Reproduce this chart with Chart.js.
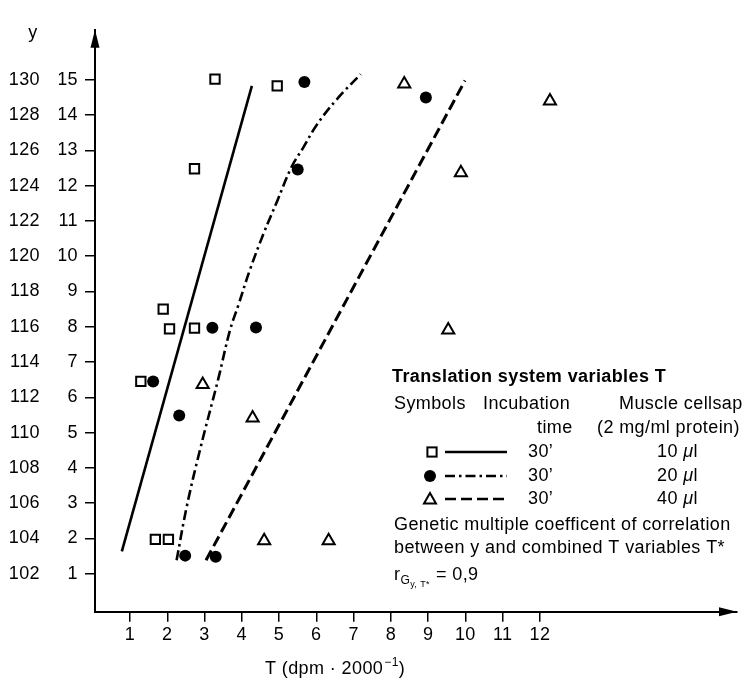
<!DOCTYPE html>
<html>
<head>
<meta charset="utf-8">
<script src="https://cdn.jsdelivr.net/npm/chart.js@4/dist/chart.umd.min.js"></script>
<style>
html,body{margin:0;padding:0;background:#fff;}
#wrap{width:750px;height:681px;position:relative;}
</style>
</head>
<body>
<div id="wrap"><canvas id="c" width="750" height="681"></canvas></div>
<script>
// ---- data ----
const xTicks = [1,2,3,4,5,6,7,8,9,10,11,12];
const yTicksInner = [1,2,3,4,5,6,7,8,9,10,11,12,13,14,15];
const yTicksOuter = [102,104,106,108,110,112,114,116,118,120,122,124,126,128,130];

// 10 µl (open squares)
const squareX = [3.28, 4.95, 2.73, 1.89, 2.06, 2.73, 1.29, 1.68, 2.03];
const squareY = [15.02, 14.83, 12.48, 8.50, 7.94, 7.96, 6.45, 1.97, 1.97];
// 20 µl (filled circles)
const circleX = [5.68, 5.50, 8.94, 3.21, 4.38, 1.62, 2.32, 2.48, 3.30];
const circleY = [14.94, 12.46, 14.50, 7.97, 7.98, 6.45, 5.48, 1.51, 1.48];
// 40 µl (open triangles)
const triangleX = [8.36, 12.27, 9.88, 9.54, 2.95, 4.29, 4.60, 6.33];
const triangleY = [14.88, 14.40, 12.37, 7.91, 6.36, 5.41, 1.93, 1.93];

// regression lines
const solidX = [0.78, 4.27];
const solidY = [1.63, 14.83];
const dashDotX = [2.25, 2.52, 2.88, 3.37, 3.68, 3.91, 4.22, 4.58, 4.94, 5.34, 5.65, 6.01, 6.55, 7.19];
const dashDotY = [1.38, 2.89, 4.52, 6.53, 7.89, 8.62, 9.62, 10.63, 11.54, 12.54, 13.08, 13.72, 14.45, 15.16];
const dashedX = [3.04, 9.99];
const dashedY = [1.38, 14.98];

// ---- styling ----
const FONT = "'Liberation Sans', Arial, Helvetica, sans-serif";
Chart.defaults.font.family = FONT;
Chart.defaults.font.size = 18;
Chart.defaults.color = '#000';

const pts = (xs, ys) => xs.map((x, i) => ({x: x, y: ys[i]}));
const DASHDOT = [10, 4, 2.5, 4];
const DASHED = [11, 5];

const spacingPlugin = {
  id: 'spacing',
  beforeDraw(chart) { try { chart.ctx.letterSpacing = '0.4px'; } catch (e) {} }
};

const arrowPlugin = {
  id: 'arrows',
  afterDraw(chart) {
    const ctx = chart.ctx;
    const a = chart.chartArea;
    ctx.save();
    ctx.fillStyle = '#000';
    ctx.beginPath();
    ctx.moveTo(a.left, a.top);
    ctx.lineTo(a.left - 4.5, a.top + 18);
    ctx.lineTo(a.left + 4.5, a.top + 18);
    ctx.closePath();
    ctx.fill();
    ctx.beginPath();
    ctx.moveTo(a.right, a.bottom);
    ctx.lineTo(a.right - 18, a.bottom - 4.5);
    ctx.lineTo(a.right - 18, a.bottom + 4.5);
    ctx.closePath();
    ctx.fill();
    ctx.restore();
  }
};

const textPlugin = {
  id: 'texts',
  afterDraw(chart) {
    const ctx = chart.ctx;
    ctx.save();
    try { ctx.letterSpacing = '0.4px'; } catch (e) {}
    ctx.fillStyle = '#000';
    ctx.strokeStyle = '#000';
    const f = (size, w, st) => `${st || ''} ${w || ''} ${size}px ${FONT}`.trim();
    const put = (s, x, y, font, align, base) => {
      ctx.font = font; ctx.textAlign = align || 'left'; ctx.textBaseline = base || 'middle';
      ctx.fillText(s, x, y);
      return ctx.measureText(s).width;
    };
    // y label
    put('y', 33, 38, f(18), 'center', 'alphabetic');

    // x axis title with superscript
    let x = 265; const xb = 674;
    x += put('T (dpm · 2000', x, xb, f(18), 'left', 'alphabetic');
    x += put('−1', x + 1, xb - 8, f(12), 'left', 'alphabetic') + 1;
    put(')', x, xb, f(18), 'left', 'alphabetic');

    // legend table
    put('Translation system variables T', 392, 377, f(18, 'bold'));
    put('Symbols', 394, 404, f(18));
    put('Incubation', 483, 404, f(18));
    put('Muscle cellsap', 619, 404, f(18));
    put('time', 537, 428, f(18));
    put('(2 mg/ml protein)', 597, 428, f(18));

    const rows = [452, 476, 499];
    const vols = ['10', '20', '40'];
    const dashes = [[], DASHDOT, DASHED];
    rows.forEach((ry, i) => {
      ctx.lineWidth = 2.5;
      ctx.setLineDash(dashes[i]);
      ctx.beginPath(); ctx.moveTo(445, ry); ctx.lineTo(507, ry); ctx.stroke();
      ctx.setLineDash([]);
      ctx.lineWidth = 2;
      if (i === 0) {
        ctx.strokeRect(432 - 4.6, ry - 4.6, 9.2, 9.2);
      } else if (i === 1) {
        ctx.beginPath(); ctx.arc(430, ry, 6, 0, Math.PI * 2); ctx.fill();
      } else {
        ctx.beginPath(); ctx.moveTo(430, ry - 6); ctx.lineTo(424, ry + 4.5); ctx.lineTo(436, ry + 4.5); ctx.closePath(); ctx.stroke();
      }
      put('30’', 528, ry, f(18));
      let vx = 657;
      vx += put(vols[i] + ' ', vx, ry, f(18));
      vx += put('μ', vx, ry, f(18, '', 'italic'));
      put('l', vx, ry, f(18));
    });

    put('Genetic multiple coefficent of correlation', 394, 525, f(18));
    put('between y and combined T variables T*', 394, 548, f(18));

    // r_{G_{y,T*}} = 0,9
    let rx = 394; const rb = 580;
    rx += put('r', rx, rb, f(18), 'left', 'alphabetic');
    rx += put('G', rx, rb + 4, f(12), 'left', 'alphabetic');
    rx += put('y, T*', rx, rb + 7, f(9), 'left', 'alphabetic');
    put('= 0,9', rx + 6, rb, f(18), 'left', 'alphabetic');
    ctx.restore();
  }
};

new Chart(document.getElementById('c'), {
  type: 'scatter',
  data: {
    datasets: [
      { label: '10 µl', data: pts(squareX, squareY), pointStyle: 'rect', pointRadius: 6.6,
        borderColor: '#000', backgroundColor: '#fff', borderWidth: 2, order: 1 },
      { label: '20 µl', data: pts(circleX, circleY), pointStyle: 'circle', pointRadius: 6,
        borderColor: '#000', backgroundColor: '#000', borderWidth: 0, order: 1 },
      { label: '40 µl', data: pts(triangleX, triangleY), pointStyle: 'triangle', pointRadius: 7,
        borderColor: '#000', backgroundColor: '#fff', borderWidth: 2, order: 1 },
      { label: 'solid', data: pts(solidX, solidY), showLine: true, pointRadius: 0,
        borderColor: '#000', borderWidth: 2.6, fill: false, order: 2 },
      { label: 'dash-dot', data: pts(dashDotX, dashDotY), showLine: true, pointRadius: 0,
        borderColor: '#000', borderWidth: 2.6, borderDash: DASHDOT, tension: 0.4, fill: false, order: 2 },
      { label: 'dashed', data: pts(dashedX, dashedY), showLine: true, pointRadius: 0,
        borderColor: '#000', borderWidth: 3, borderDash: DASHED, fill: false, order: 2 }
    ]
  },
  options: {
    responsive: false,
    animation: false,
    events: [],
    layout: { padding: { left: 0, top: 8, right: 13, bottom: 0 } },
    plugins: { legend: { display: false }, tooltip: { enabled: false }, title: { display: false } },
    scales: {
      x: {
        type: 'linear', position: 'bottom', min: 0.06, max: 17.29,
        afterBuildTicks: s => { s.ticks = xTicks.map(v => ({value: v})); },
        afterFit: s => { s.height = 69.3; },
        grid: { drawOnChartArea: false, drawTicks: true, tickLength: 10, color: '#000', lineWidth: 1.5 },
        border: { display: true, color: '#000', width: 2 },
        ticks: { autoSkip: false, maxRotation: 0, padding: 3, color: '#000', font: { size: 18 } }
      },
      y: {
        type: 'linear', position: 'left', weight: 0, min: -0.08, max: 16.42,
        afterBuildTicks: s => { s.ticks = yTicksInner.map(v => ({value: v})); },
        afterFit: s => { s.width = 36; },
        grid: { drawOnChartArea: false, drawTicks: true, tickLength: 10, color: '#000', lineWidth: 1.5 },
        border: { display: true, color: '#000', width: 2 },
        ticks: { autoSkip: false, padding: 7, color: '#000', font: { size: 18 } }
      },
      y2: {
        type: 'linear', position: 'left', weight: 1, min: 99.84, max: 132.84,
        afterBuildTicks: s => { s.ticks = yTicksOuter.map(v => ({value: v})); },
        afterFit: s => { s.width = 59; },
        grid: { display: false, drawOnChartArea: false, drawTicks: false },
        border: { display: false },
        ticks: { autoSkip: false, padding: 19, color: '#000', font: { size: 18 } }
      }
    }
  },
  plugins: [spacingPlugin, arrowPlugin, textPlugin]
});
</script>
</body>
</html>
